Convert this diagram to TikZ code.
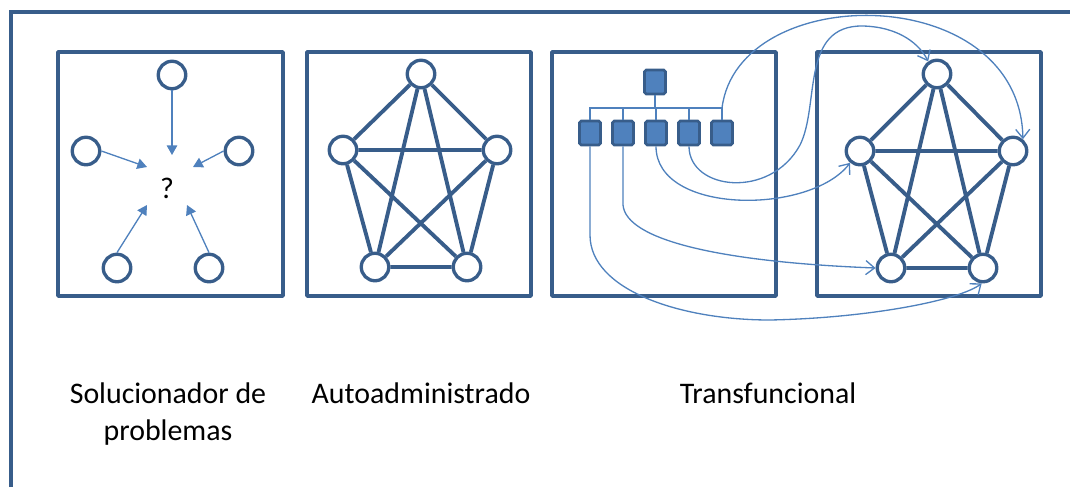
\documentclass[tikz,border=0pt]{standalone}
\usepackage{fontspec}
\setmainfont{Carlito}
\usetikzlibrary{arrows.meta}
\definecolor{azulescuro}{RGB}{56,93,138}
\definecolor{azulclaro}{RGB}{79,129,189}

\begin{document}
\begin{tikzpicture}
        [
            x=0.02cm, y=-0.02cm,
            moldura/.style={draw=azulescuro, line width=2.3pt},
            caixa/.style={draw=azulescuro, line width=2pt, line join=round},
            membro/.style={circle, draw=azulescuro, fill=white, line width=1.9pt, minimum size=5.5mm, inner sep=0pt},
            quadrado/.style={rectangle, rounded corners=1pt, draw=azulescuro, fill=azulclaro, line width=1.5pt, minimum width=4.2mm, minimum height=4.8mm, inner sep=0pt},
            aresta/.style={draw=azulescuro, line width=2.2pt},
            seta/.style={draw=azulclaro, line width=0.75pt, -{Triangle[length=5.5pt,width=6pt]}},
            ramo/.style={draw=azulclaro, line width=1.1pt},
            ligacao/.style={draw=azulclaro, line width=0.75pt, -{Straight Barb[length=5pt,width=8pt]}},
            rotulo/.style={font=\fontsize{17}{21}\selectfont, align=center, inner sep=0pt},
        ]
        \useasboundingbox (0,0) rectangle (1070,487);

        %Moldura e caixas
        \draw[moldura] (11,487) -- (11,12) -- (1070,12);
        \draw[caixa] (58,52) rectangle (283,296);
        \draw[caixa] (307,52) rectangle (531,296);
        \draw[caixa] (552,52) rectangle (776,296);
        \draw[caixa] (817,52) rectangle (1041,296);

        %Solucionador de problemas
        \node[membro]               (s1)    at (172,75)     {};
        \node[membro]               (s2)    at (86,151)     {};
        \node[membro]               (s3)    at (239,151)    {};
        \node[membro]               (s4)    at (117,268)    {};
        \node[membro]               (s5)    at (209,268)    {};
        \node[rotulo, anchor=base]  (duvida) at (167,198)   {?};
        \coordinate (q1) at (172,155);
        \coordinate (q2) at (147,167);
        \coordinate (q3) at (193,167);
        \coordinate (q4) at (147,205);
        \coordinate (q5) at (187,205);
        \draw[seta] (s1.south) -- (q1);
        \draw[seta] (s2.east) -- (q2);
        \draw[seta] (s3.west) -- (q3);
        \draw[seta] (s4.north) -- (q4);
        \draw[seta] (s5.north) -- (q5);

        %Autoadministrado
        \node[membro]   (a1)    at (421,74)     {};
        \node[membro]   (a2)    at (343,150)    {};
        \node[membro]   (a3)    at (497,150)    {};
        \node[membro]   (a4)    at (375,267)    {};
        \node[membro]   (a5)    at (467,267)    {};
        \draw[aresta] (a1) -- (a2) (a1) -- (a3) (a1) -- (a4) (a1) -- (a5) (a2) -- (a3);
        \draw[aresta] (a2) -- (a4) (a2) -- (a5) (a3) -- (a4) (a3) -- (a5) (a4) -- (a5);

        %Transfuncional: organograma
        \node[quadrado] (chefe) at (655,82)     {};
        \node[quadrado] (f1)    at (590,133)    {};
        \node[quadrado] (f2)    at (623,133)    {};
        \node[quadrado] (f3)    at (656,133)    {};
        \node[quadrado] (f4)    at (689,133)    {};
        \node[quadrado] (f5)    at (722,133)    {};
        \coordinate (barra) at (655,108);
        \coordinate (ponta) at (f5.north |- barra);
        \draw[ramo] (chefe.south) -- (barra);
        \draw[ramo] (f1.north) |- (barra) -| (f5.north);
        \draw[ramo] (f2.north) -- (f2.north |- barra);
        \draw[ramo] (f3.north) -- (f3.north |- barra);
        \draw[ramo] (f4.north) -- (f4.north |- barra);

        %Transfuncional: equipe
        \node[membro]   (e1)    at (937,74)     {};
        \node[membro]   (e2)    at (860,151)    {};
        \node[membro]   (e3)    at (1013,151)   {};
        \node[membro]   (e4)    at (891,268)    {};
        \node[membro]   (e5)    at (983,268)    {};
        \draw[aresta] (e1) -- (e2) (e1) -- (e3) (e1) -- (e4) (e1) -- (e5) (e2) -- (e3);
        \draw[aresta] (e2) -- (e4) (e2) -- (e5) (e3) -- (e4) (e3) -- (e5) (e4) -- (e5);

        %Ligacoes
        \draw[ligacao] (ponta) .. controls (738,-20) and (1020,-20) .. (e3.50);
        \draw[ligacao] (f4.south) .. controls (689,190) and (770,200) .. (800,145)
            .. controls (820,105) and (800,25) .. (863,26)
            .. controls (900,27) and (920,45) .. (e1.125);
        \draw[ligacao] (f3.south) .. controls (656,215) and (810,215) .. (e2.230);
        \draw[ligacao] (f2.south) -- (623,205) .. controls (626,240) and (720,262) .. (e4.west);
        \draw[ligacao] (f1.south) -- (590,235) .. controls (590,290) and (680,320) .. (770,320)
            .. controls (870,318) and (960,300) .. (e5.265);

        %Rotulos
        \node[rotulo, anchor=base] (lsol)   at (168,440) {Solucionador de\\problemas};
        \node[rotulo, anchor=base] (lauto)  at (421,403) {Autoadministrado};
        \node[rotulo, anchor=base] (ltrans) at (768,403) {Transfuncional};
    \end{tikzpicture}
\end{document}
